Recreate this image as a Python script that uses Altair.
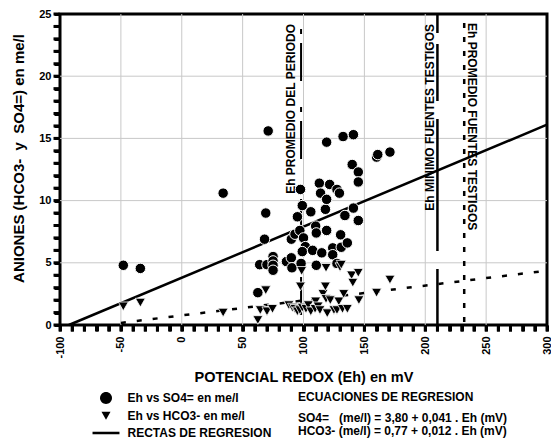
import altair as alt
import pandas as pd

FONT = "Liberation Sans"

# ---- data ----
so4_eh = [-48, -34, 34, 71, 69, 68, 64, 62.5, 70, 75, 75, 75, 75, 86, 90, 90.5, 90, 93, 95, 97,
          97.5, 99, 100, 101.5, 99, 98, 106, 107.5, 110, 110.5, 110.5, 113, 114, 115, 118, 119,
          119, 119, 121.5, 124, 124, 127.5, 129.5, 127.5, 130.5, 131, 132.5, 134, 136, 141, 140,
          141, 145, 145, 145, 160, 161, 171]
so4_val = [4.8, 4.55, 10.6, 15.6, 9.0, 6.9, 4.85, 2.6, 4.85, 5.5, 5.15, 4.8, 4.4, 5.1, 5.4, 4.6,
           6.9, 7.3, 8.7, 7.6, 10.9, 9.6, 7.0, 6.3, 5.9, 4.95, 9.1, 6.0, 7.95, 7.4, 4.8, 11.4,
           10.6, 5.8, 9.3, 10.1, 14.7, 7.6, 11.3, 6.2, 5.65, 10.9, 10.6, 4.95, 7.25, 6.25, 15.15,
           8.8, 6.6, 15.3, 12.9, 9.4, 12.3, 11.5, 8.4, 13.5, 13.7, 13.9]

hco3_eh = [-48, -34, 34, 62.5, 64.5, 69, 70, 74.5, 88, 91, 93, 95, 97, 99, 102, 104, 97.5, 98.5,
           106, 109.5, 110, 112, 113.5, 116, 118, 118.5, 119.5, 118.5, 122, 125, 127.5, 129, 130,
           131, 132, 133, 136, 139.5, 140.5, 145, 145.5, 160, 171]
hco3_val = [1.5, 1.8, 1.0, 0.4, 1.2, 2.8, 1.1, 1.3, 1.6, 1.4, 1.3, 1.1, 1.2, 1.4, 1.3, 1.6, 3.1, 4.35,
            1.1, 1.3, 1.9, 1.5, 1.2, 2.5, 3.1, 2.1, 0.95, 4.6, 2.0, 1.2, 1.2, 1.9, 4.65,
            4.85, 1.3, 2.5, 1.3, 4.0, 3.4, 4.2, 2.0, 2.6, 3.65]

reg_so4_eh = [-92.7, 300]
reg_so4_val = [0.0, 16.1]
reg_hco3_eh = [-50, 300]
reg_hco3_val = [0.17, 4.37]

ref_eh = [98, 210, 232]
ref_labels = ["Eh PROMEDIO DEL PERIODO", "Eh MINIMO FUENTES TESTIGOS", "Eh PROMEDIO FUENTES TESTIGOS"]

legend_labels = ["Eh vs SO4= en me/l", "Eh vs HCO3- en me/l", "RECTAS DE REGRESION"]
eq_lines = ["ECUACIONES DE REGRESION",
            "SO4=\u00a0\u00a0 (me/l) = 3,80 + 0,041 . Eh (mV)",
            "HCO3- (me/l) = 0,77 + 0,012 . Eh (mV)"]

x_ticks = list(range(-100, 301, 10))
y_ticks = list(range(0, 26))
x_grid = [-50, 0, 50, 100, 150, 200, 250]
y_grid = [5, 10, 15, 20]
x_domain = [-100, 300]
y_domain = [0, 25]

# ---- scales / axes ----
xs = alt.Scale(domain=x_domain, nice=False, zero=False)
ys = alt.Scale(domain=y_domain, nice=False, zero=False)

common_axis = dict(labelFont=FONT, labelFontSize=11, labelFontWeight="bold", labelColor="black",
                   labelOverlap=False, labelFlush=False, ticks=True, tickOpacity=1,
                   tickColor="black", tickWidth=3, tickSize=6,
                   domainColor="black", grid=False,
                   titleFont=FONT, titleFontWeight="bold", titleColor="black")

x_axis = alt.Axis(values=x_ticks,
                  labelExpr="datum.value % 50 === 0 ? '' + datum.value : ''",
                  labelAngle=270, labelAlign="right", labelBaseline="middle", labelPadding=5,
                  title="POTENCIAL REDOX (Eh) en mV", titleFontSize=14.5, titleY=52,
                  titleBaseline="middle", **common_axis)
y_axis = alt.Axis(values=y_ticks,
                  labelExpr="datum.value % 5 === 0 ? '' + datum.value : ''",
                  labelPadding=3,
                  title="ANIONES (HCO3-\u00a0\u00a0y\u00a0\u00a0SO4=) en me/l", titleFontSize=15,
                  titleX=-42, titleY=144, titleAngle=270, titleBaseline="middle", titleAlign="center",
                  **common_axis)

X = alt.X("eh:Q", scale=xs, axis=x_axis)
Y = alt.Y("val:Q", scale=ys, axis=y_axis)

so4_df = pd.DataFrame({"eh": so4_eh, "val": so4_val})
hco3_df = pd.DataFrame({"eh": hco3_eh, "val": hco3_val})
reg1_df = pd.DataFrame({"eh": reg_so4_eh, "val": reg_so4_val})
reg2_df = pd.DataFrame({"eh": reg_hco3_eh, "val": reg_hco3_val})

gridx = alt.Chart(pd.DataFrame({"eh": x_grid})).mark_rule(color="#c8c8c8", strokeWidth=1).encode(x=X)
gridy = alt.Chart(pd.DataFrame({"val": y_grid})).mark_rule(color="#c8c8c8", strokeWidth=1).encode(y=Y)

# axis tick marks drawn at the tick values, just outside the frame
tickx = alt.Chart(pd.DataFrame({"eh": x_ticks})).mark_tick(
    orient="vertical", thickness=3, size=6, color="black", opacity=1).encode(x=X, y=alt.value(314.5))
ticky = alt.Chart(pd.DataFrame({"val": y_ticks})).mark_tick(
    orient="horizontal", thickness=3, size=6, color="black", opacity=1).encode(y=Y, x=alt.value(-3.5))

def rule_df(i):
    return pd.DataFrame({"eh": [ref_eh[i]], "val": [y_domain[1]], "low": [y_domain[0]]})

def label_df(i):
    return pd.DataFrame({"eh": [ref_eh[i]], "t": [ref_labels[i]]})

txt = dict(font=FONT, fontSize=12, fontWeight="bold", color="black")

lab1 = alt.Chart(label_df(0)).mark_text(angle=270, align="right", baseline="middle", dy=-10, **txt).encode(
    x=X, y=alt.value(10), text="t:N")
lab2 = alt.Chart(label_df(1)).mark_text(angle=270, align="right", baseline="middle", dy=-7, **txt).encode(
    x=X, y=alt.value(10), text="t:N")
lab3 = alt.Chart(label_df(2)).mark_text(angle=90, align="left", baseline="middle", dy=-8, **txt).encode(
    x=X, y=alt.value(9), text="t:N")

rule1 = alt.Chart(rule_df(0)).mark_rule(color="black", strokeWidth=2, strokeDash=[5, 9, 38, 26],
                                        strokeDashOffset=63).encode(x=X, y=Y, y2="low:Q")
rule2 = alt.Chart(rule_df(1)).mark_rule(color="black", strokeWidth=2.5,
                                        strokeDash=[19, 11, 57, 18, 132, 18, 80]).encode(x=X, y=Y, y2="low:Q")
rule3 = alt.Chart(rule_df(2)).mark_rule(color="black", strokeWidth=2.5, strokeDash=[5, 9],
                                        strokeDashOffset=5).encode(x=X, y=Y, y2="low:Q")

line1 = alt.Chart(reg1_df).mark_line(color="black", strokeWidth=2.5).encode(x=X, y=Y)
line2 = alt.Chart(reg2_df).mark_line(color="black", strokeWidth=2.5, strokeDash=[5, 11]).encode(x=X, y=Y)

pts1 = alt.Chart(so4_df).mark_point(shape="circle", filled=True, fill="black", stroke="white",
                                    strokeWidth=1, size=110, opacity=1).encode(x=X, y=Y)
pts2 = alt.Chart(hco3_df).mark_point(shape="triangle-down", filled=True, fill="black", stroke="white",
                                     strokeWidth=0.8, size=100, opacity=1).encode(x=X, y=Y)

# legend (entries built from a hidden, clipped layer so the legend is the library's own)
circle_path = "M-1.09,0A1.09,1.09,0,1,0,1.09,0A1.09,1.09,0,1,0,-1.09,0Z"
tri_path = "M-0.82,-0.7L0.82,-0.7L0,0.75Z"
line_path = "M-2.45,-0.23L2.45,-0.23L2.45,0.23L-2.45,0.23Z"
leg_df = pd.DataFrame({"serie": legend_labels, "eh": [-1000] * 3, "val": [-1000] * 3})
leg = alt.Chart(leg_df).mark_point(filled=True, fill="black", clip=True, opacity=1).encode(
    x=X, y=Y,
    shape=alt.Shape("serie:N",
                    scale=alt.Scale(domain=legend_labels, range=[circle_path, tri_path, line_path]),
                    legend=alt.Legend(orient="none", legendX=40, legendY=378, title=None,
                                      symbolSize=121, symbolFillColor="black", symbolStrokeColor="black",
                                      symbolStrokeWidth=0, symbolOpacity=1,
                                      labelFont=FONT, labelFontSize=12, labelFontWeight="bold",
                                      labelColor="black", labelOffset=15.5, rowPadding=5.5,
                                      padding=0, labelLimit=0)))

eq_df = [pd.DataFrame({"t": [s]}) for s in eq_lines]
eq1 = alt.Chart(eq_df[0]).mark_text(align="left", baseline="middle", **txt).encode(
    x=alt.value(238), y=alt.value(383), text="t:N")
eq2 = alt.Chart(eq_df[1]).mark_text(align="left", baseline="middle", **txt).encode(
    x=alt.value(238), y=alt.value(404), text="t:N")
eq3 = alt.Chart(eq_df[2]).mark_text(align="left", baseline="middle", **txt).encode(
    x=alt.value(238), y=alt.value(417), text="t:N")

chart = alt.layer(gridx, gridy, tickx, ticky, lab1, lab2, lab3, rule1, rule2, rule3, line1, line2,
                  pts1, pts2, leg, eq1, eq2, eq3).properties(
    width=487, height=311,
    autosize=alt.AutoSizeParams(type="none"),
    padding={"left": 60, "top": 14, "right": 4, "bottom": 118},
    background="white",
).configure_view(stroke="black", strokeWidth=3)

chart.save("out.html", embed_options={"renderer": "svg", "actions": False})
